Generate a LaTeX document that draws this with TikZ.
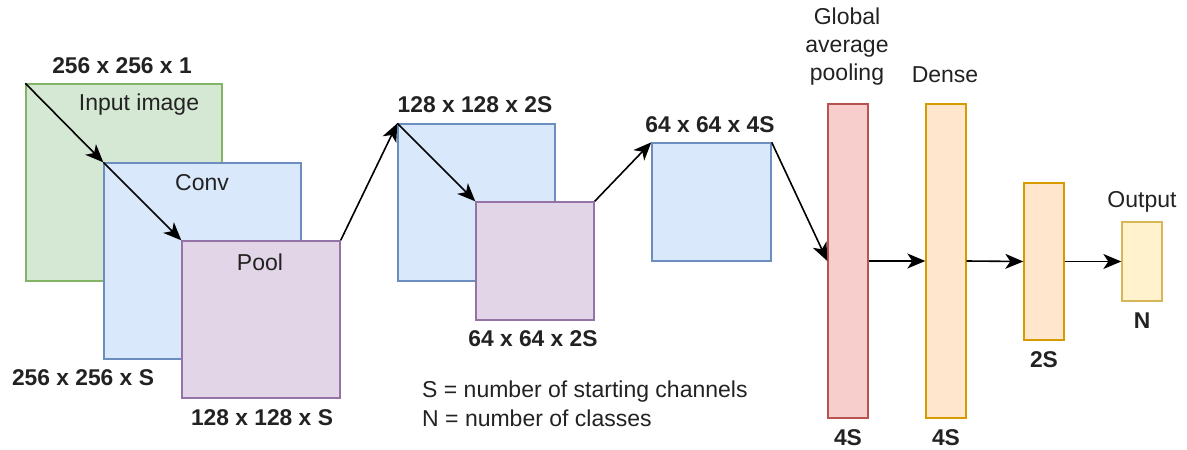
\documentclass[tikz,border=0pt]{standalone}
\usepackage{fontspec}
\setmainfont{Liberation Sans}
\usetikzlibrary{arrows.meta}
\definecolor{gfill}{HTML}{D5E8D4}\definecolor{gdraw}{HTML}{82B366}
\definecolor{bfill}{HTML}{DAE8FC}\definecolor{bdraw}{HTML}{6C8EBF}
\definecolor{pfill}{HTML}{E1D5E7}\definecolor{pdraw}{HTML}{9673A6}
\definecolor{rfill}{HTML}{F8CECC}\definecolor{rdraw}{HTML}{B85450}
\definecolor{ofill}{HTML}{FFE6CC}\definecolor{odraw}{HTML}{D79B00}
\definecolor{yfill}{HTML}{FFF2CC}\definecolor{ydraw}{HTML}{D6B656}
\definecolor{txt}{HTML}{222222}
\tikzset{
  box/.style={rectangle, inner sep=0pt, line width=1.4pt},
  gbox/.style={box, fill=gfill, draw=gdraw},
  bbox/.style={box, fill=bfill, draw=bdraw},
  lbl/.style={inner sep=0pt, text=txt, font=\fontsize{23}{28}\selectfont},
  blbl/.style={lbl, font=\fontsize{22.8}{28}\selectfont\bfseries},
  arr/.style={-{Stealth[length=18pt,width=15pt,inset=5pt]}, line width=1.6pt, black},
}
\begin{document}
\begin{tikzpicture}[x=1pt,y=-1pt]
\useasboundingbox (0,0) rectangle (1187,450);
% boxes
\node[gbox, minimum width=196pt, minimum height=197pt] (in) at (124,182.5) {};
\node[bbox, minimum width=197pt, minimum height=196pt] (conv) at (202.5,261) {};
\node[box, fill=pfill, draw=pdraw, minimum width=158pt, minimum height=157pt] (pool) at (261,319.5) {};
\node[bbox, minimum width=157pt, minimum height=157pt] (b2) at (476.5,202.5) {};
\node[box, fill=pfill, draw=pdraw, minimum width=118pt, minimum height=118pt] (p2) at (535,261) {};
\node[bbox, minimum width=119pt, minimum height=118pt] (b3) at (711.5,202) {};
\node[box, fill=rfill, draw=rdraw, minimum width=40pt, minimum height=314pt] (gap) at (848,261) {};
\node[box, fill=ofill, draw=odraw, minimum width=40pt, minimum height=314pt] (d1) at (946,261) {};
\node[box, fill=ofill, draw=odraw, minimum width=40pt, minimum height=157pt] (d2) at (1044,261.5) {};
\node[box, fill=yfill, draw=ydraw, minimum width=40pt, minimum height=79pt] (out) at (1142,261.5) {};
% labels
\node[blbl] (l1) at (122,66) {256 x 256 x 1};
\node[lbl] (t1) at (139,105) {Input image};
\node[lbl] (t2) at (202,183) {Conv};
\node[lbl] (t3) at (260,262) {Pool};
\node[blbl] (l2) at (83,378) {256 x 256 x S};
\node[blbl] (l3) at (262,418) {128 x 128 x S};
\node[blbl] (l4) at (475,105) {128 x 128 x 2S};
\node[blbl] (l5) at (533,339) {64 x 64 x 2S};
\node[blbl] (l6) at (710,125) {64 x 64 x 4S};
\node[lbl, anchor=west] (lg1) at (422,392) {S = number of starting channels};
\node[lbl, anchor=west] (lg2) at (422,418) {N = number of classes};
\node[lbl, align=center] (t4) at (847,47) {Global\\average\\pooling};
\node[lbl] (t5) at (945,75) {Dense};
\node[lbl] (t6) at (1142,202) {Output};
\node[blbl] (l7) at (848,438) {4S};
\node[blbl] (l8) at (946,438) {4S};
\node[blbl] (l9) at (1044,360) {2S};
\node[blbl] (l10) at (1142,321) {N};
% connectors
\draw[arr] (in.north west) -- (conv.north west);
\draw[arr] (conv.north west) -- (pool.north west);
\draw[arr] (pool.north east) -- (b2.north west);
\draw[arr] (b2.north west) -- (p2.north west);
\draw[arr] (p2.north east) -- (b3.north west);
\draw[arr] (b3.north east) -- (gap.west);
\draw[arr] (gap.east) -- (d1.west);
\draw[arr] (d1.east) -- (d2.west);
\draw[arr] (d2.east) -- (out.west);
\end{tikzpicture}
\end{document}
